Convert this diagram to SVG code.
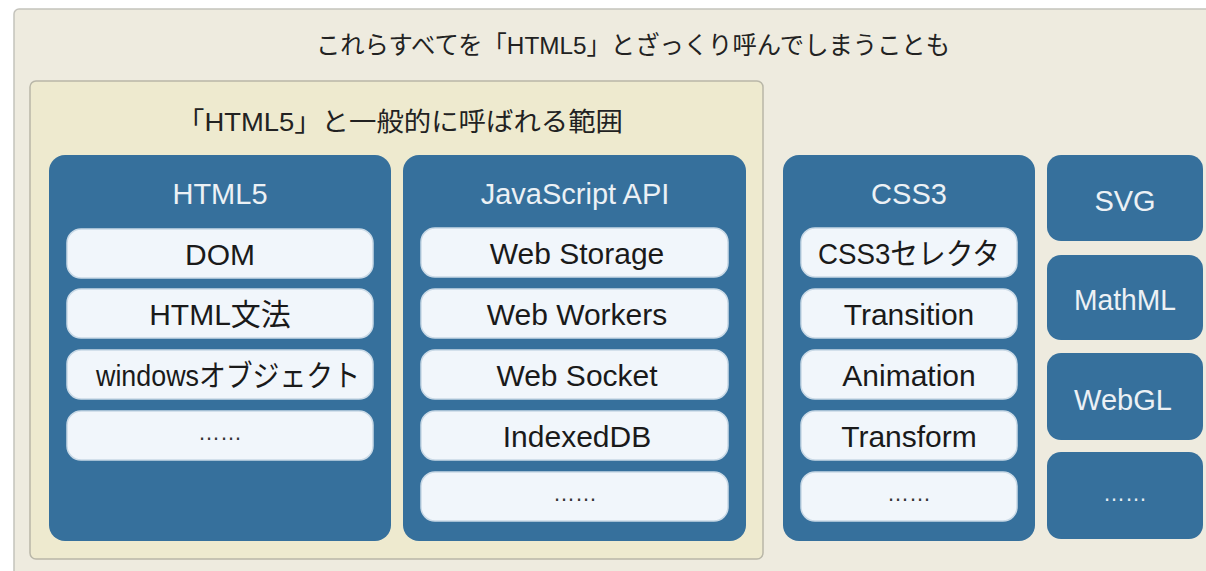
<svg xmlns="http://www.w3.org/2000/svg" width="1206" height="571" viewBox="0 0 1206 571">
<style>
text{font-family:"Liberation Sans","Noto Sans CJK JP",sans-serif;text-anchor:middle}
.title{font-size:24.5px;fill:#222}
.sub{font-size:26px;fill:#222}
.blue{fill:#36709C}
.pill{fill:#F1F6FB;stroke:#C9D9E6;stroke-width:1.5}
.head{font-size:29px;fill:#ECF1F5}
.item{font-size:30px;fill:#1a1a1a}
.dots{font-size:22px;fill:#333}
.wdots{font-size:22px;fill:#E8EEF4}
</style>
<rect x="0" y="0" width="1206" height="571" fill="#ffffff"/>
<g id="outer">
<rect x="14" y="9" width="1210" height="580" rx="5" fill="#EEEBDF" stroke="#C4C3BC" stroke-width="1.5"/>
<text class="title" x="633" y="54" textLength="634" lengthAdjust="spacingAndGlyphs">これらすべてを「HTML5」とざっくり呼んでしまうことも</text>
</g>
<g id="html5-range">
<rect x="30" y="81" width="733" height="478" rx="6" fill="#EEEACF" stroke="#B9B7A8" stroke-width="1.5"/>
<text class="sub" x="400" y="131" textLength="446" lengthAdjust="spacingAndGlyphs">「HTML5」と一般的に呼ばれる範囲</text>
</g>
<g id="html5">
<rect class="blue" x="49" y="155" width="342" height="386" rx="16"/>
<text class="head" x="220" y="204">HTML5</text>
<rect class="pill" x="67" y="229" width="306" height="49" rx="14"/>
<text class="item" x="220" y="265">DOM</text>
<rect class="pill" x="67" y="289" width="306" height="49" rx="14"/>
<text class="item" x="220" y="325">HTML文法</text>
<rect class="pill" x="67" y="350" width="306" height="49" rx="14"/>
<text class="item" x="228" y="386" textLength="264" lengthAdjust="spacingAndGlyphs">windowsオブジェクト</text>
<rect class="pill" x="67" y="411" width="306" height="49" rx="14"/>
<text class="dots" x="220" y="440">……</text>
</g>
<g id="jsapi">
<rect class="blue" x="403" y="155" width="343" height="386" rx="16"/>
<text class="head" x="575" y="204">JavaScript API</text>
<rect class="pill" x="421" y="228" width="307" height="49" rx="14"/>
<text class="item" x="577" y="264">Web Storage</text>
<rect class="pill" x="421" y="289" width="307" height="49" rx="14"/>
<text class="item" x="577" y="325">Web Workers</text>
<rect class="pill" x="421" y="350" width="307" height="49" rx="14"/>
<text class="item" x="577" y="386">Web Socket</text>
<rect class="pill" x="421" y="411" width="307" height="49" rx="14"/>
<text class="item" x="577" y="447">IndexedDB</text>
<rect class="pill" x="421" y="472" width="307" height="49" rx="14"/>
<text class="dots" x="575" y="501">……</text>
</g>
<g id="css3">
<rect class="blue" x="783" y="155" width="252" height="386" rx="16"/>
<text class="head" x="909" y="204">CSS3</text>
<rect class="pill" x="801" y="228" width="216" height="49" rx="14"/>
<text class="item" x="909" y="264" textLength="182" lengthAdjust="spacingAndGlyphs">CSS3セレクタ</text>
<rect class="pill" x="801" y="289" width="216" height="49" rx="14"/>
<text class="item" x="909" y="325">Transition</text>
<rect class="pill" x="801" y="350" width="216" height="49" rx="14"/>
<text class="item" x="909" y="386">Animation</text>
<rect class="pill" x="801" y="411" width="216" height="49" rx="14"/>
<text class="item" x="909" y="447">Transform</text>
<rect class="pill" x="801" y="472" width="216" height="49" rx="14"/>
<text class="dots" x="909" y="501">……</text>
</g>
<g id="svg">
<rect class="blue" x="1047" y="155" width="156" height="86" rx="14"/>
<text class="head" x="1125" y="211">SVG</text>
</g>
<g id="mathml">
<rect class="blue" x="1047" y="255" width="156" height="85" rx="14"/>
<text class="head" x="1125" y="310" textLength="102" lengthAdjust="spacingAndGlyphs">MathML</text>
</g>
<g id="webgl">
<rect class="blue" x="1047" y="353" width="156" height="87" rx="14"/>
<text class="head" x="1123" y="410">WebGL</text>
</g>
<g id="others">
<rect class="blue" x="1047" y="452" width="156" height="87" rx="14"/>
<text class="wdots" x="1125" y="501">……</text>
</g>
<g id="connectors"/>
</svg>
